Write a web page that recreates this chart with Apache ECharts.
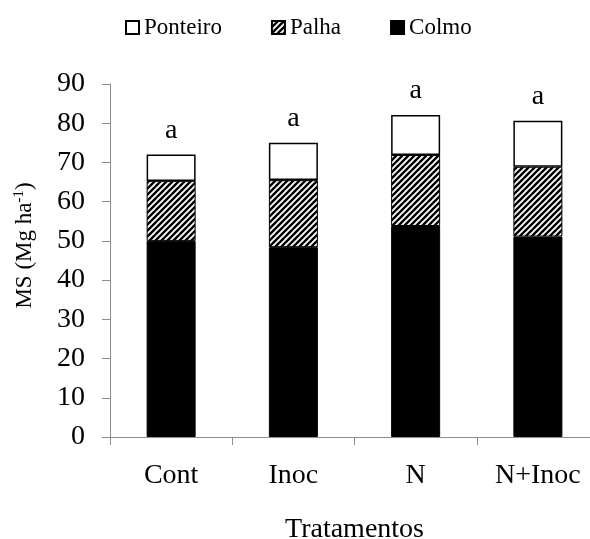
<!DOCTYPE html>
<html>
<head>
<meta charset="utf-8">
<script src="https://cdn.jsdelivr.net/npm/echarts@6/dist/echarts.min.js"></script>
<style>html,body{margin:0;padding:0;background:#fff}#c{width:590px;height:539px}</style>
</head>
<body>
<div id="c"></div>
<script>
const categories = ['Cont', 'Inoc', 'N', 'N+Inoc'];
const colmo = [50.0, 48.4, 53.8, 51.1];
const palha = [15.3, 17.1, 18.1, 17.8];
const ponteiro = [6.7, 9.5, 10.2, 11.7];
const sigLabels = ['a', 'a', 'a', 'a'];
const yTicks = [0, 10, 20, 30, 40, 50, 60, 70, 80, 90];

const FONT = 'Liberation Serif';

function hatch() {
  const s = 6;
  const c = document.createElement('canvas');
  c.width = s; c.height = s;
  const g = c.getContext('2d');
  g.fillStyle = '#fff';
  g.fillRect(0, 0, s, s);
  g.strokeStyle = '#000';
  g.lineWidth = 2.4;
  g.beginPath();
  g.moveTo(-s, 2 * s); g.lineTo(2 * s, -s);
  g.moveTo(-2 * s, 2 * s); g.lineTo(s, -s);
  g.moveTo(0, 2 * s); g.lineTo(3 * s, -s);
  g.stroke();
  return c;
}

const chart = echarts.init(document.getElementById('c'), null, {renderer: 'canvas'});
chart.setOption({
  animation: false,
  backgroundColor: '#fff',
  textStyle: {fontFamily: FONT, color: '#000'},
  legend: {
    data: ['Ponteiro', 'Palha', 'Colmo'],
    left: 120, top: 11,
    itemWidth: 13, itemHeight: 13, itemGap: 49,
    textStyle: {fontFamily: FONT, fontSize: 23, color: '#000'},
    icon: 'rect'
  },
  grid: {left: 110, width: 489, top: 84, height: 353, outerBoundsMode: 'none', containLabel: false},
  xAxis: {
    type: 'category',
    data: categories,
    axisLine: {lineStyle: {color: '#8c8c8c', width: 1}},
    axisTick: {show: true, length: 8, lineStyle: {color: '#8c8c8c'}},
    axisLabel: {fontFamily: FONT, fontSize: 28, color: '#000', margin: 25},
    name: 'Tratamentos',
    nameLocation: 'middle',
    nameGap: 79,
    nameTextStyle: {fontFamily: FONT, fontSize: 28, color: '#000'}
  },
  yAxis: {
    type: 'value',
    min: yTicks[0], max: yTicks[yTicks.length - 1], interval: 10,
    splitLine: {show: false},
    axisLine: {show: true, lineStyle: {color: '#8c8c8c', width: 1}},
    axisTick: {show: true, length: 8, lineStyle: {color: '#8c8c8c'}},
    axisLabel: {fontFamily: FONT, fontSize: 28, color: '#000', margin: 25},
    name: '{n|MS (Mg ha}{s|-1}{n|)}',
    nameLocation: 'middle',
    nameGap: 72,
    nameRotate: 90,
    nameTextStyle: {
      padding: [0, 0, 0, 30],
      rich: {
        n: {fontFamily: FONT, fontSize: 23, color: '#000', lineHeight: 26},
        s: {fontFamily: FONT, fontSize: 15, color: '#000', lineHeight: 26, verticalAlign: 'top', padding: [0, 0, 8, 0]}
      }
    }
  },
  series: [
    {
      name: 'Colmo', type: 'bar', stack: 't', barWidth: 49,
      data: colmo,
      itemStyle: {color: '#000', borderColor: '#000', borderWidth: 1}
    },
    {
      name: 'Palha', type: 'bar', stack: 't', barWidth: 49,
      data: palha,
      itemStyle: {color: {image: hatch(), repeat: 'repeat'}, borderColor: '#000', borderWidth: 1}
    },
    {
      name: 'Ponteiro', type: 'bar', stack: 't', barWidth: 49,
      data: ponteiro,
      itemStyle: {color: '#fff', borderColor: '#000', borderWidth: 1.5},
      label: {
        show: true, position: 'top', distance: 10,
        formatter: p => sigLabels[p.dataIndex],
        fontFamily: FONT, fontSize: 28, color: '#000'
      }
    }
  ]
});
</script>
</body>
</html>
